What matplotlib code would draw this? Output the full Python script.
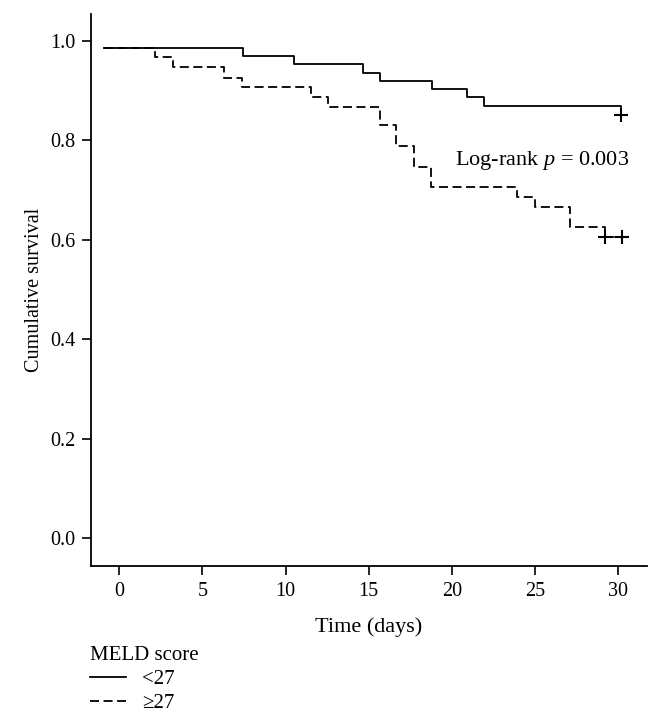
import matplotlib
matplotlib.use("Agg")
import matplotlib.pyplot as plt
from matplotlib.lines import Line2D

plt.rcParams['font.family'] = ['Liberation Serif', 'DejaVu Serif']
plt.rcParams['mathtext.fontset'] = 'custom'
plt.rcParams['mathtext.rm'] = 'Liberation Serif'
plt.rcParams['mathtext.it'] = 'Liberation Serif:italic'

# Kaplan-Meier steps
low_time = [-0.9, 7.42, 10.5, 14.66, 15.7, 18.82, 20.88, 21.9, 30.16]
low_surv = [0.985, 0.970, 0.953, 0.936, 0.920, 0.903, 0.887, 0.870, 0.850]
low_cens_time = [30.16]
low_cens_surv = [0.850]

high_time = [-0.9, 2.18, 3.22, 6.30, 7.40, 11.50, 12.58, 15.66, 16.66,
             17.70, 18.76, 23.92, 24.96, 27.06, 29.2, 30.2]
high_surv = [0.985, 0.967, 0.947, 0.926, 0.907, 0.887, 0.867, 0.830, 0.789,
             0.747, 0.707, 0.686, 0.665, 0.626, 0.606, 0.606]
high_cens_time = [29.2, 30.2]
high_cens_surv = [0.606, 0.606]

labels = ['<27', '≥27']
x_ticks = [0, 5, 10, 15, 20, 25, 30]
y_ticks = [0.0, 0.2, 0.4, 0.6, 0.8, 1.0]

fig = plt.figure(figsize=(6.6, 7.15), dpi=100)
ax = fig.add_axes([0.138, 0.2084, 0.842, 0.772])

dash = (0, (5, 2.5))
ax.step(low_time, low_surv, where='post', color='black', lw=1.3)
ax.step(high_time, high_surv, where='post', color='black', lw=1.3, linestyle=dash)
ax.plot(low_cens_time, low_cens_surv, '+', color='black', ms=10, mew=1.5)
ax.plot(high_cens_time, high_cens_surv, '+', color='black', ms=10, mew=1.5)

ax.text(20.2, 0.76, 'Log-rank $p$ = 0.003', fontsize=16, va='center', ha='left')

ax.set_xlim(-1.68, 31.7)
ax.set_ylim(-0.056, 1.054)
ax.set_xticks(x_ticks)
ax.set_yticks(y_ticks)
ax.set_yticklabels([f'{v:.1f}' for v in y_ticks])
ax.tick_params(direction='out', length=6.5, width=1.2, labelsize=14.5, pad=5)
ax.spines['top'].set_visible(False)
ax.spines['right'].set_visible(False)
ax.spines['left'].set_linewidth(1.3)
ax.spines['bottom'].set_linewidth(1.3)

ax.set_xlabel('Time (days)', fontsize=16, labelpad=12)
ax.set_ylabel('Cumulative survival', fontsize=14.5, labelpad=4)

handles = [Line2D([], [], color='black', lw=1.3),
           Line2D([], [], color='black', lw=1.3, linestyle=dash)]
fig.legend(handles, labels, title='MELD score', loc='upper left',
           bbox_to_anchor=(0.133, 0.099), frameon=False, fontsize=15,
           title_fontsize=15, alignment='left', handlelength=1.75,
           handletextpad=0.75, labelspacing=0.2, borderpad=0.1,
           borderaxespad=0.0)

fig.savefig('out.png', dpi=100)
